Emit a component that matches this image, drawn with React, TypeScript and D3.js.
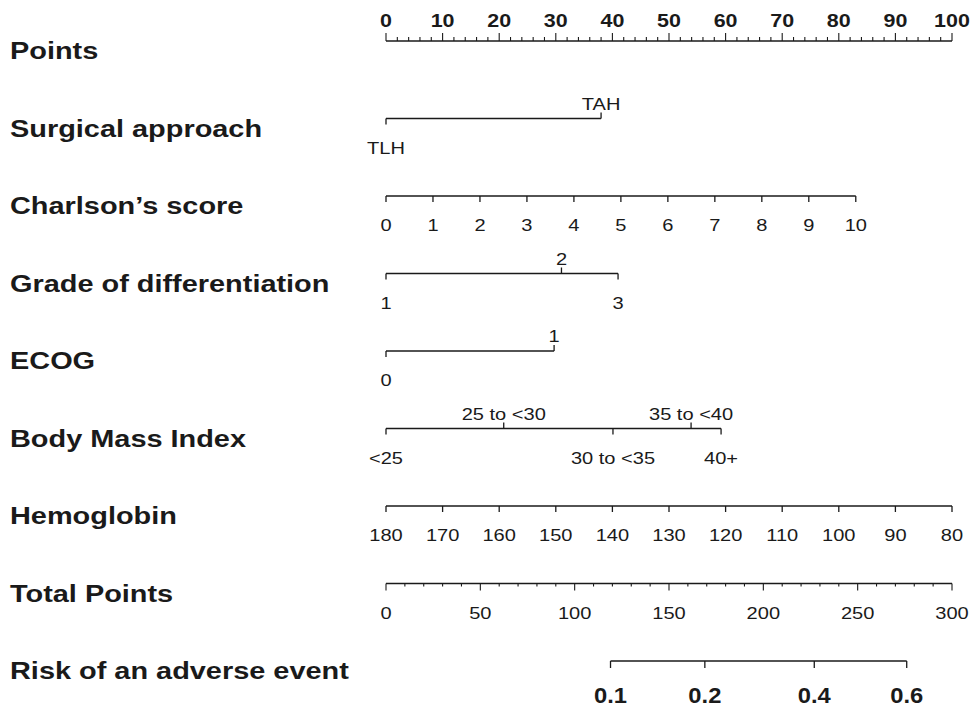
import React from "react";
import * as d3 from "d3";

// row titles, top to bottom
const rowNames = [
  "Points",
  "Surgical approach",
  "Charlson\u2019s score",
  "Grade of differentiation",
  "ECOG",
  "Body Mass Index",
  "Hemoglobin",
  "Total Points",
  "Risk of an adverse event",
];

// categorical predictors: level labels and their points
const surgicalLevels = ["TLH", "TAH"];
const surgicalPoints = [0, 38];
const gradeLevels = ["1", "2", "3"];
const gradePoints = [0, 31, 41];
const ecogLevels = ["0", "1"];
const ecogPoints = [0, 29.7];
const bmiLevels = ["<25", "25 to <30", "30 to <35", "35 to <40", "40+"];
const bmiPoints = [0, 20.8, 40.1, 53.9, 59.2];

// continuous predictors: value range -> points range
const charlsonRange = [0, 10];
const charlsonPointRange = [0, 83];
const charlsonTicks = [0, 1, 2, 3, 4, 5, 6, 7, 8, 9, 10];
const hemoRange = [180, 80];
const hemoPointRange = [0, 100];
const hemoTicks = [180, 170, 160, 150, 140, 130, 120, 110, 100, 90, 80];

// total points axis and risk
const totalRange = [0, 300];
const totalTicks = [0, 50, 100, 150, 200, 250, 300];
const riskLabels = ["0.1", "0.2", "0.4", "0.6"];
const riskTotalPoints = [119, 169, 227, 276];

const W = 974, H = 710;
const x0 = 386, x1 = 952;
const top = 41, step = 77.5;
const ink = "#1a1a1a";
const font = "'Liberation Sans', Arial, sans-serif";

// the reference is a little stretched sideways, so text gets an x scale
const T = ({ x, y, size, bold, sx = 1.22, anchor = "middle", children }: any) => (
  <text
    transform={`translate(${x},${y}) scale(${sx},1)`}
    textAnchor={anchor}
    fontSize={size}
    fontWeight={bold ? "bold" : "normal"}
    fontFamily={font}
    fill={ink}
  >
    {children}
  </text>
);

const LAB = 17;
const LSX = 1.18;

export default function App() {
  const pts = d3.scaleLinear().domain([0, 100]).range([x0, x1]);
  const tot = d3.scaleLinear().domain(totalRange).range([x0, x1]);
  const rowY = (i: number) => top + i * step;

  const categorical = (levels: string[], points: number[], row: number) => {
    const y = rowY(row);
    const xs = points.map((p) => pts(p));
    return (
      <g key={row}>
        <line x1={d3.min(xs)} x2={d3.max(xs)} y1={y} y2={y} stroke={ink} strokeWidth={1.3} />
        {levels.map((lab, i) => {
          const above = i % 2 === 1;
          return (
            <g key={lab}>
              <line x1={xs[i]} x2={xs[i]} y1={y} y2={above ? y - 6 : y + 6} stroke={ink} strokeWidth={1.3} />
              <T x={xs[i]} y={above ? y - 9 : y + 35} size={LAB} sx={LSX}>{lab}</T>
            </g>
          );
        })}
      </g>
    );
  };

  const continuous = (ticks: number[], dom: number[], pr: number[], row: number) => {
    const y = rowY(row);
    const toPts = d3.scaleLinear().domain(dom).range(pr);
    const xs = ticks.map((v) => pts(toPts(v)));
    return (
      <g key={row}>
        <line x1={d3.min(xs)} x2={d3.max(xs)} y1={y} y2={y} stroke={ink} strokeWidth={1.3} />
        {ticks.map((v, i) => (
          <g key={v}>
            <line x1={xs[i]} x2={xs[i]} y1={y} y2={y + 6} stroke={ink} strokeWidth={1.3} />
            <T x={xs[i]} y={y + 35} size={LAB} sx={LSX}>{String(v)}</T>
          </g>
        ))}
      </g>
    );
  };

  const riskX = riskTotalPoints.map((t) => tot(t));

  return (
    <svg width={W} height={H} style={{ position: "absolute", left: 0, top: 0, background: "#fff" }}>
      {rowNames.map((n, i) => (
        <T key={n} x={10} y={rowY(i) + 18} size={23.5} sx={1.23} bold anchor="start">{n}</T>
      ))}

      {/* Points axis */}
      <g>
        <line x1={x0} x2={x1} y1={rowY(0)} y2={rowY(0)} stroke={ink} strokeWidth={1.3} />
        {d3.range(0, 101, 2).map((v) => (
          <line key={v} x1={pts(v)} x2={pts(v)} y1={rowY(0)} y2={rowY(0) - (v % 10 === 0 ? 8 : 4)} stroke={ink} strokeWidth={1.1} />
        ))}
        {pts.ticks(10).map((v) => (
          <T key={v} x={pts(v)} y={rowY(0) - 14} size={19} sx={1.13} bold>{String(v)}</T>
        ))}
      </g>

      {categorical(surgicalLevels, surgicalPoints, 1)}
      {continuous(charlsonTicks, charlsonRange, charlsonPointRange, 2)}
      {categorical(gradeLevels, gradePoints, 3)}
      {categorical(ecogLevels, ecogPoints, 4)}
      {categorical(bmiLevels, bmiPoints, 5)}
      {continuous(hemoTicks, hemoRange, hemoPointRange, 6)}

      {/* Total points */}
      <g>
        <line x1={x0} x2={x1} y1={rowY(7)} y2={rowY(7)} stroke={ink} strokeWidth={1.3} />
        {d3.range(0, 301, 10).map((v) => (
          <line key={v} x1={tot(v)} x2={tot(v)} y1={rowY(7)} y2={rowY(7) + (v % 50 === 0 ? 7 : 3)} stroke={ink} strokeWidth={1.1} />
        ))}
        {totalTicks.map((v) => (
          <T key={v} x={tot(v)} y={rowY(7) + 35} size={LAB} sx={LSX}>{String(v)}</T>
        ))}
      </g>

      {/* Risk */}
      <g>
        <line x1={d3.min(riskX)} x2={d3.max(riskX)} y1={rowY(8)} y2={rowY(8)} stroke={ink} strokeWidth={1.3} />
        {riskLabels.map((lab, i) => (
          <g key={lab}>
            <line x1={riskX[i]} x2={riskX[i]} y1={rowY(8)} y2={rowY(8) + 7} stroke={ink} strokeWidth={1.3} />
            <T x={riskX[i]} y={rowY(8) + 42} size={22} sx={1.08} bold>{lab}</T>
          </g>
        ))}
      </g>
    </svg>
  );
}
